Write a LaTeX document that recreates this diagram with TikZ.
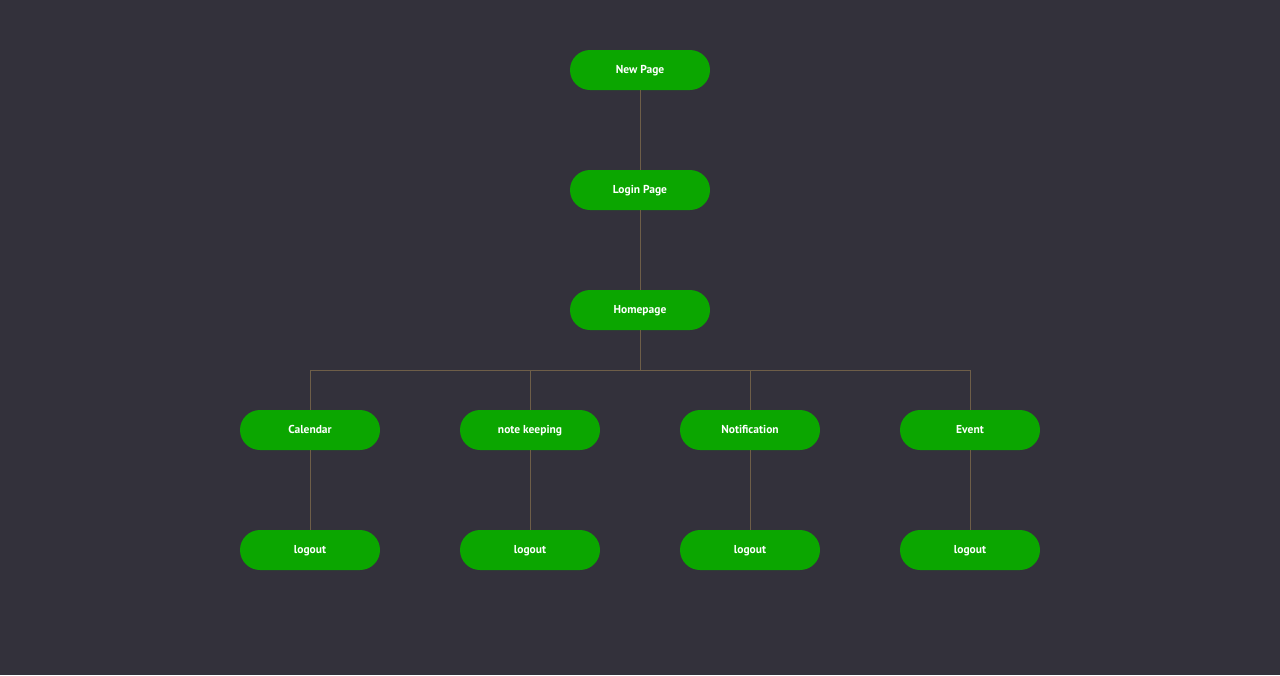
\documentclass[tikz,border=0pt]{standalone}
\usepackage{fontspec}
\setmainfont{PT Sans}
\usepackage{tikz}
\usetikzlibrary{calc}
\definecolor{bgdark}{HTML}{33313B}
\definecolor{pagegreen}{HTML}{0BA600}
\definecolor{linkbrown}{HTML}{6E5E48}
\tikzset{
page/.style={fill=pagegreen, text=white, minimum width=140pt, minimum height=40pt,
  rounded corners=20pt, inner sep=0pt, text height=8pt, text depth=1pt,
  font=\fontsize{11.5}{13}\selectfont\bfseries},
link/.style={draw=linkbrown, line width=0.8pt}
}
\begin{document}
\begin{tikzpicture}[x=1pt, y=-1pt]
\fill[bgdark] (0,0) rectangle (1280,675);
\useasboundingbox (0,0) rectangle (1280,675);
\node[page] (new) at (640,70) {New Page};
\node[page] (login) at (640,190) {Login Page};
\node[page] (home) at (640,310) {Homepage};
\coordinate (bar) at (640,370);
\node[page] (cal) at (310,430) {Calendar};
\node[page] (note) at (530,430) {note keeping};
\node[page] (notif) at (750,430) {Notification};
\node[page] (event) at (970,430) {Event};
\foreach \n/\x in {cal/310, note/530, notif/750, event/970}
  \node[page] (out\n) at (\x,550) {logout};
\draw[link] (new) -- (login);
\draw[link] (login) -- (home);
\draw[link] (home) -- (bar);
\foreach \n in {cal, note, notif, event}{
  \draw[link] (bar) -| (\n);
  \draw[link] (\n) -- (out\n);
}
\end{tikzpicture}
\end{document}
